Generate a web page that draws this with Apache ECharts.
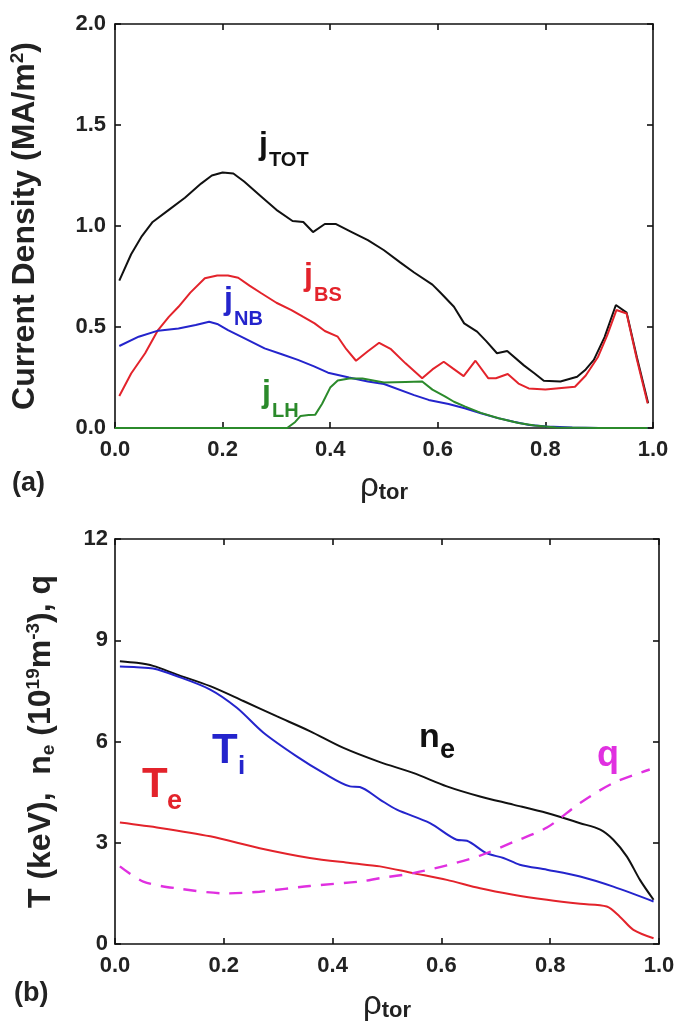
<!DOCTYPE html>
<html><head><meta charset="utf-8">
<script src="https://cdn.jsdelivr.net/npm/echarts/dist/echarts.min.js"></script>
<style>html,body{margin:0;padding:0;background:#fff}#c{width:696px;height:1030px}</style>
</head><body><div id="c"></div>
<script>
// ---------- data: panel (a) current densities ----------
const rhoTot = [0.008,0.03,0.05,0.07,0.1,0.13,0.16,0.18,0.2,0.22,0.24,0.27,0.3,0.33,0.35,0.368,0.39,0.41,0.44,0.47,0.5,0.53,0.556,0.59,0.606,0.63,0.649,0.673,0.69,0.71,0.729,0.76,0.78,0.797,0.828,0.859,0.875,0.89,0.91,0.931,0.951,0.97,0.991];
const jTot   = [0.73,0.86,0.95,1.02,1.08,1.14,1.21,1.25,1.265,1.26,1.22,1.15,1.08,1.025,1.02,0.97,1.01,1.01,0.97,0.93,0.88,0.82,0.77,0.71,0.667,0.60,0.518,0.477,0.43,0.37,0.381,0.31,0.27,0.234,0.23,0.254,0.29,0.337,0.45,0.609,0.571,0.35,0.122];
const rhoBS  = [0.008,0.03,0.056,0.08,0.1,0.118,0.14,0.167,0.19,0.21,0.229,0.25,0.272,0.3,0.328,0.35,0.371,0.39,0.414,0.43,0.448,0.47,0.491,0.513,0.54,0.571,0.59,0.611,0.628,0.648,0.67,0.694,0.708,0.73,0.75,0.769,0.8,0.855,0.875,0.898,0.915,0.932,0.951,0.97,0.99];
const jBS    = [0.158,0.27,0.37,0.485,0.55,0.6,0.67,0.741,0.755,0.755,0.744,0.705,0.667,0.62,0.584,0.55,0.518,0.48,0.452,0.39,0.333,0.38,0.422,0.39,0.32,0.246,0.29,0.328,0.295,0.257,0.333,0.246,0.246,0.267,0.22,0.196,0.19,0.204,0.26,0.353,0.46,0.584,0.567,0.34,0.122];
const rhoNB  = [0.008,0.044,0.08,0.118,0.15,0.175,0.19,0.21,0.24,0.278,0.31,0.34,0.37,0.396,0.435,0.47,0.5,0.556,0.583,0.62,0.65,0.68,0.71,0.741,0.77,0.803,0.85,0.9,0.95,0.99];
const jNB    = [0.406,0.452,0.482,0.493,0.51,0.526,0.515,0.485,0.445,0.394,0.365,0.337,0.305,0.274,0.25,0.23,0.218,0.163,0.139,0.119,0.098,0.073,0.05,0.031,0.015,0.007,0.002,0,0,0];
const rhoLH  = [0.0,0.32,0.335,0.345,0.36,0.372,0.385,0.4,0.414,0.435,0.46,0.5,0.54,0.571,0.59,0.614,0.63,0.651,0.68,0.713,0.75,0.78,0.82,0.9,0.99];
const jLH    = [0,0,0.03,0.06,0.064,0.065,0.12,0.2,0.235,0.245,0.245,0.225,0.228,0.23,0.19,0.155,0.13,0.106,0.075,0.048,0.025,0.012,0.003,0,0];

// ---------- data: panel (b) profiles ----------
const rhoNe = [0.009,0.04,0.07,0.113,0.175,0.236,0.297,0.358,0.42,0.487,0.548,0.61,0.671,0.732,0.794,0.855,0.892,0.916,0.941,0.965,0.99];
const ne    = [8.38,8.33,8.24,7.99,7.64,7.2,6.75,6.31,5.81,5.39,5.07,4.67,4.37,4.13,3.88,3.58,3.39,3.09,2.59,1.9,1.31];
const rhoTi = [0.009,0.04,0.07,0.113,0.175,0.224,0.273,0.334,0.383,0.432,0.45,0.487,0.518,0.579,0.628,0.647,0.683,0.714,0.744,0.794,0.855,0.916,0.99];
const Ti    = [8.22,8.2,8.16,7.94,7.54,7.0,6.26,5.56,5.07,4.67,4.65,4.28,3.98,3.58,3.09,3.06,2.69,2.55,2.35,2.2,2.0,1.7,1.26];
const rhoTe = [0.009,0.083,0.175,0.266,0.358,0.432,0.487,0.548,0.61,0.671,0.732,0.794,0.855,0.904,0.928,0.953,0.99];
const Te    = [3.6,3.44,3.19,2.84,2.55,2.4,2.3,2.1,1.9,1.65,1.46,1.31,1.19,1.11,0.81,0.42,0.17];
const rhoQ  = [0.009,0.052,0.113,0.205,0.266,0.358,0.45,0.487,0.548,0.61,0.671,0.732,0.794,0.855,0.916,0.983];
const qProf = [2.3,1.85,1.65,1.5,1.55,1.72,1.85,1.95,2.1,2.33,2.62,3.02,3.45,4.18,4.77,5.17];

// ---------- tick labels ----------
const xTickLabels = ['0.0','0.2','0.4','0.6','0.8','1.0'];
const jTickLabels = ['0.0','0.5','1.0','1.5','2.0'];
const pTickLabels = ['0','3','6','9','12'];

const FF = '"Liberation Sans", Arial, Helvetica, sans-serif';
const AX = '#111';
const zip = (xs, ys) => xs.map((x, i) => [x, ys[i]]);

const chart = echarts.init(document.getElementById('c'), null, {renderer: 'canvas'});

function xAx(grid, pos, withLabel) {
  const a = {
    gridIndex: grid, type: 'value', min: 0, max: 1, interval: 0.2, position: pos,
    axisLine: {show: true, onZero: false, lineStyle: {color: AX, width: 1.6}},
    axisTick: {show: true, inside: true, length: 6, lineStyle: {color: AX, width: 1.6}},
    splitLine: {show: false},
    axisLabel: {show: withLabel, margin: 11, fontSize: 22, fontWeight: 'bold', color: '#222', fontFamily: FF,
      formatter: v => xTickLabels[Math.round(v / 0.2)]}
  };
  if (withLabel) {
    a.name = '{r|ρ}{s|tor}';
    a.nameLocation = 'middle';
    a.nameGap = grid === 0 ? 42 : 44;
    a.nameTextStyle = {rich: {
      r: {fontSize: 33, fontFamily: FF, color: '#222', lineHeight: 34},
      s: {fontSize: 22, fontWeight: 'bold', fontFamily: FF, color: '#222', verticalAlign: 'bottom', lineHeight: 22}
    }};
  }
  return a;
}
function yAx(grid, pos, withLabel, max, interval, labels) {
  return {
    gridIndex: grid, type: 'value', min: 0, max: max, interval: interval, position: pos,
    axisLine: {show: true, onZero: false, lineStyle: {color: AX, width: 1.6}},
    axisTick: {show: true, inside: true, length: 6, lineStyle: {color: AX, width: 1.6}},
    splitLine: {show: false},
    axisLabel: {show: withLabel, margin: grid === 0 ? 9 : 7, fontSize: 22, fontWeight: 'bold', color: '#222', fontFamily: FF,
      formatter: v => labels[Math.round(v / interval)]}
  };
}

const yA0 = yAx(0, 'left', true, 2, 0.5, jTickLabels);
yA0.name = '{b|Current Density (MA/m}{p|2}{b|)}';
yA0.nameLocation = 'middle';
yA0.nameGap = 73;
yA0.nameTextStyle = {rich: {
  b: {fontSize: 32, fontWeight: 'bold', fontFamily: FF, color: '#222', lineHeight: 34},
  p: {fontSize: 19, fontWeight: 'bold', fontFamily: FF, color: '#222', verticalAlign: 'top', lineHeight: 19}
}};
const yA1 = yAx(1, 'left', true, 12, 3, pTickLabels);
yA1.name = '{b|T (keV),  n}{d|e}{b| (10}{p|19}{b|m}{p|-3}{b|), q}';
yA1.nameLocation = 'middle';
yA1.nameGap = 57;
yA1.nameTextStyle = {rich: {
  b: {fontSize: 32, fontWeight: 'bold', fontFamily: FF, color: '#222', lineHeight: 34},
  p: {fontSize: 19, fontWeight: 'bold', fontFamily: FF, color: '#222', verticalAlign: 'top', lineHeight: 19},
  d: {fontSize: 19, fontWeight: 'bold', fontFamily: FF, color: '#222', verticalAlign: 'bottom', lineHeight: 19}
}};

function line(name, xs, ys, color, xi, yi, extra) {
  return Object.assign({
    name, type: 'line', xAxisIndex: xi, yAxisIndex: yi, data: zip(xs, ys),
    symbol: 'none', showSymbol: false, smooth: false, clip: true,
    lineStyle: {color, width: 2}, itemStyle: {color}, emphasis: {disabled: true}
  }, extra || {});
}

function txt(text, x, y, size, color) {
  return {type: 'text', x, y, silent: true, z: 100,
    style: {text, fontSize: size, fontWeight: 'bold', fontFamily: FF, fill: color, align: 'left', verticalAlign: 'middle'}};
}

const RED = '#e3232b', BLUE = '#2424cc', GREEN = '#2b8a2b', MAG = '#e030e0', BLK = '#111111';

chart.setOption({
  animation: false,
  backgroundColor: '#fff',
  grid: [
    {left: 113, top: 24, width: 540, height: 404, containLabel: false},
    {left: 115, top: 539, width: 544, height: 405, containLabel: false}
  ],
  xAxis: [xAx(0, 'bottom', true), xAx(0, 'top', false), xAx(1, 'bottom', true), xAx(1, 'top', false)],
  yAxis: [yA0, yAx(0, 'right', false, 2, 0.5, jTickLabels), yA1, yAx(1, 'right', false, 12, 3, pTickLabels)],
  series: [
    line('jTOT', rhoTot, jTot, BLK, 0, 0),
    line('jBS', rhoBS, jBS, RED, 0, 0),
    line('jNB', rhoNB, jNB, BLUE, 0, 0),
    line('jLH', rhoLH, jLH, GREEN, 0, 0),
    line('ne', rhoNe, ne, BLK, 2, 2, {smooth: 0.3}),
    line('Ti', rhoTi, Ti, BLUE, 2, 2, {smooth: 0.3}),
    line('Te', rhoTe, Te, RED, 2, 2, {smooth: 0.3}),
    line('q', rhoQ, qProf, MAG, 2, 2, {smooth: 0.3, lineStyle: {color: MAG, width: 2.4, type: [13, 10]}})
  ],
  graphic: [
    txt('j', 259, 145, 32, BLK), txt('TOT', 269, 160, 20, BLK),
    txt('j', 304, 276, 32, RED), txt('BS', 314, 295, 20, RED),
    txt('j', 224, 300, 32, BLUE), txt('NB', 234, 319, 20, BLUE),
    txt('j', 262, 393, 32, GREEN), txt('LH', 272, 411, 20, GREEN),
    txt('T', 212, 751, 42, BLUE), txt('i', 238, 767, 26, BLUE),
    txt('T', 142, 785, 42, RED), txt('e', 167, 802, 27, RED),
    txt('n', 419, 738, 34, BLK), txt('e', 440, 751, 27, BLK),
    txt('q', 597, 756, 36, MAG),
    txt('(a)', 12, 484, 27, '#222'),
    txt('(b)', 14, 994, 27, '#222')
  ]
});
</script></body></html>
